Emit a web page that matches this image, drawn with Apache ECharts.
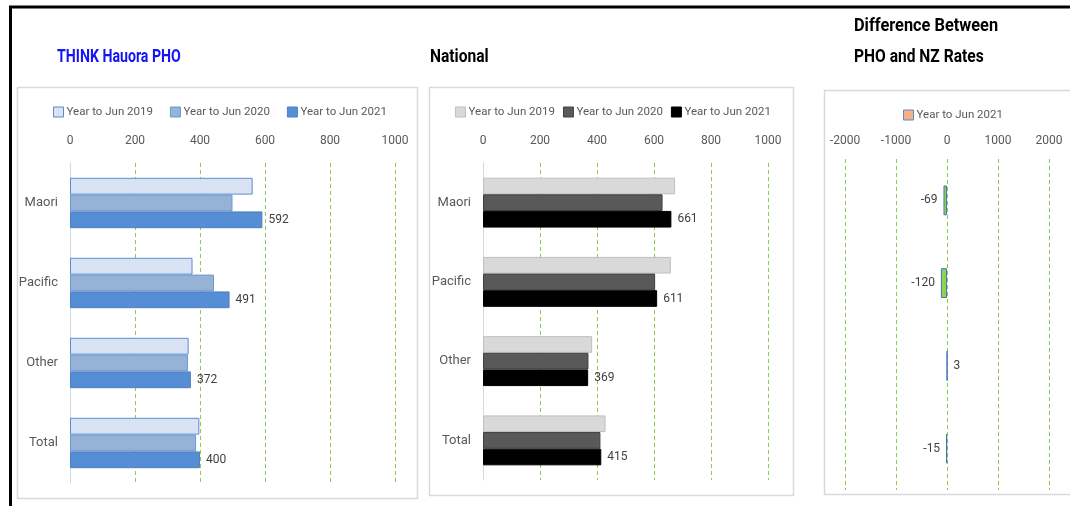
<!DOCTYPE html>
<html>
<head>
<meta charset="utf-8">
<script src="https://cdn.jsdelivr.net/npm/echarts@6/dist/echarts.min.js"></script>
<style>
  html, body { margin: 0; padding: 0; background: #fff; }
  #chart { width: 1070px; height: 506px; }
</style>
</head>
<body>
<div id="chart"></div>
<script>
// Rates by ethnicity, THINK Hauora PHO vs national
const categories = ['Maori', 'Pacific', 'Other', 'Total'];
const seriesNames = ['Year to Jun 2019', 'Year to Jun 2020', 'Year to Jun 2021'];

const phoJun2019 = [562, 377, 365, 398];
const phoJun2020 = [500, 443, 363, 388];
const phoJun2021 = [592, 491, 372, 400];

const nzJun2019 = [674, 659, 383, 430];
const nzJun2020 = [630, 604, 370, 412];
const nzJun2021 = [661, 611, 369, 415];

// PHO minus NZ, year to Jun 2021
const diffJun2021 = [-69, -120, 3, -15];

const FONT = "Roboto, 'Liberation Sans', sans-serif";
const TXT = '#595959';
const GRID_GREEN = '#8CCB4A';

const chart = echarts.init(document.getElementById('chart'), null, { renderer: 'canvas' });

function valueAxis(gridIndex, min, max, interval, margin) {
  return {
    type: 'value', gridIndex, position: 'top', min, max, interval,
    axisLine: { show: false }, axisTick: { show: false },
    axisLabel: { color: TXT, fontSize: 12, fontFamily: FONT, margin, formatter: v => String(v) },
    splitLine: { show: true, lineStyle: { color: GRID_GREEN, type: [4, 3], width: 1 } }
  };
}
function catAxis(gridIndex, showLine, showLabel) {
  return {
    type: 'category', gridIndex, data: categories, inverse: true,
    axisLine: { show: showLine, lineStyle: { color: '#D9D9D9', width: 1 } },
    axisTick: { show: false },
    axisLabel: { show: showLabel, color: TXT, fontSize: 13, fontFamily: FONT, margin: 12 }
  };
}
function barSeries(name, data, axisIdx, fill, border, labelled) {
  return {
    type: 'bar', name, data, xAxisIndex: axisIdx, yAxisIndex: axisIdx,
    barGap: '0%', barCategoryGap: '37%',
    itemStyle: { color: fill, borderColor: border, borderWidth: 1 },
    label: labelled ? { show: true, position: 'right', distance: 6, color: '#404040', fontSize: 12, fontFamily: FONT } : { show: false },
    emphasis: { disabled: true }
  };
}

// Bold headings, narrowed horizontally
function heading(text, x, y, color, scaleX) {
  return {
    type: 'group', x, y, scaleX, z: 50,
    children: [{
      type: 'text',
      style: {
        text, x: 0, y: 0, fill: color,
        font: "bold 19px Roboto, 'Liberation Sans', sans-serif",
        textAlign: 'left', textVerticalAlign: 'middle', align: 'left', verticalAlign: 'middle'
      }
    }]
  };
}

const phoColors = [['#DAE3F3', '#5B8BD0'], ['#95B3D7', '#6E98CE'], ['#558ED5', '#4F81BD']];
const nzColors = [['#D9D9D9', '#BFBFBF'], ['#595959', '#404040'], ['#000000', '#000000']];

const legendText = { color: TXT, fontSize: 11.5, fontFamily: FONT, padding: [0, 0, 0, -2] };

const option = {
  animation: false,
  textStyle: { fontFamily: FONT },
  graphic: [
    heading('THINK Hauora PHO', 57, 57, '#1414F5', 0.745),
    heading('National', 430, 57, '#000', 0.82),
    heading('Difference Between', 854, 26, '#000', 0.86),
    heading('PHO and NZ Rates', 854, 57, '#000', 0.82),
    // outer frame
    { type: 'line', shape: { x1: 9, y1: 7, x2: 1070, y2: 7 }, style: { stroke: '#000', lineWidth: 3 }, z: 100 },
    { type: 'line', shape: { x1: 10.5, y1: 6, x2: 10.5, y2: 506 }, style: { stroke: '#000', lineWidth: 3 }, z: 100 },
    // panel boxes
    { type: 'rect', shape: { x: 17.5, y: 87.5, width: 400, height: 411 }, style: { fill: 'none', stroke: '#D9D9D9', lineWidth: 1.5 }, z: -1 },
    { type: 'rect', shape: { x: 429.5, y: 87.5, width: 364, height: 408 }, style: { fill: 'none', stroke: '#D9D9D9', lineWidth: 1.5 }, z: -1 },
    { type: 'rect', shape: { x: 824.5, y: 90.5, width: 300, height: 404 }, style: { fill: 'none', stroke: '#D9D9D9', lineWidth: 1.5 }, z: -1 }
  ],
  legend: [
    {
      left: 48, top: 101, itemWidth: 10, itemHeight: 10, itemGap: 17, icon: 'rect',
      textStyle: legendText,
      data: seriesNames.map((n, i) => ({ name: n, itemStyle: { color: phoColors[i][0], borderColor: phoColors[i][1], borderWidth: 1 } }))
    },
    {
      left: 450, top: 101, itemWidth: 10, itemHeight: 10, itemGap: 8, icon: 'rect',
      textStyle: legendText,
      data: seriesNames.map((n, i) => ({ name: n, itemStyle: { color: nzColors[i][0], borderColor: nzColors[i][1], borderWidth: 1 } }))
    },
    {
      left: 898, top: 104, itemWidth: 10, itemHeight: 10, icon: 'rect',
      textStyle: legendText,
      data: [{ name: seriesNames[2], itemStyle: { color: '#F4B183', borderColor: '#5B8BD0', borderWidth: 1 } }]
    }
  ],
  grid: [
    { left: 70, width: 325, top: 163, height: 320 },
    { left: 483, width: 285, top: 163, height: 317 },
    { left: 845, width: 204, top: 159, height: 331 }
  ],
  xAxis: [
    valueAxis(0, 0, 1000, 200, 16),
    valueAxis(1, 0, 1000, 200, 16),
    valueAxis(2, -2000, 2000, 1000, 12)
  ],
  yAxis: [
    catAxis(0, true, true),
    catAxis(1, true, true),
    catAxis(2, false, false)
  ],
  series: [
    barSeries(seriesNames[0], phoJun2019, 0, phoColors[0][0], phoColors[0][1], false),
    barSeries(seriesNames[1], phoJun2020, 0, phoColors[1][0], phoColors[1][1], false),
    barSeries(seriesNames[2], phoJun2021, 0, phoColors[2][0], phoColors[2][1], true),
    barSeries(seriesNames[0], nzJun2019, 1, nzColors[0][0], nzColors[0][1], false),
    barSeries(seriesNames[1], nzJun2020, 1, nzColors[1][0], nzColors[1][1], false),
    barSeries(seriesNames[2], nzJun2021, 1, nzColors[2][0], nzColors[2][1], true),
    {
      type: 'bar', name: seriesNames[2], xAxisIndex: 2, yAxisIndex: 2,
      barCategoryGap: '64%',
      itemStyle: { color: '#92D050', borderColor: '#4472C4', borderWidth: 1 },
      label: { show: true, color: '#404040', fontSize: 12, fontFamily: FONT, distance: 6, position: 'right' },
      // negative differences carry their label on the left of the bar
      data: diffJun2021.map(v => ({ value: v, label: { position: v < 0 ? 'left' : 'right' } })),
      emphasis: { disabled: true }
    }
  ]
};

chart.setOption(option);
</script>
</body>
</html>
